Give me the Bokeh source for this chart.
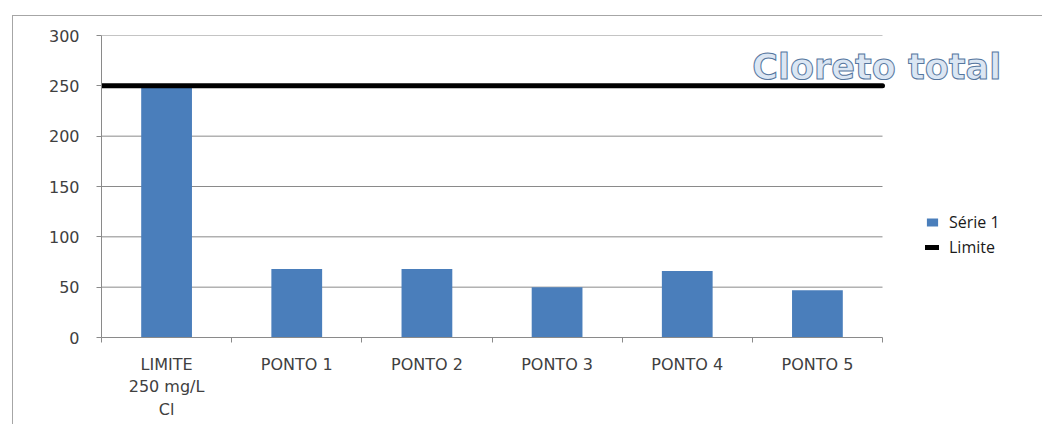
import numpy as np
from bokeh.plotting import figure
from bokeh.models import (Range1d, FixedTicker, Legend, LegendItem, Label,
                          ColumnDataSource)
from bokeh.embed import file_html
from bokeh.resources import INLINE

# ---- data ----
categories = ["LIMITE\n250 mg/L\nCl", "PONTO 1", "PONTO 2", "PONTO 3", "PONTO 4", "PONTO 5"]
serie1 = [250, 68, 68, 50, 66, 47]
limite = 250
y_ticks = [0, 50, 100, 150, 200, 250, 300]
title_text = "Cloreto total"

n = len(categories)
centers = list(np.arange(n) + 0.5)
bounds = list(range(0, n + 1))

# layout (pixels)
FIG_W, FIG_H = 1030, 409
LEFT, TOP, BOTTOM = 88, 19, 88
frame_w = FIG_W - LEFT
cat_px = 781 / n  # pixel width of one category
x_end = frame_w / cat_px

p = figure(width=FIG_W, height=FIG_H, output_backend="svg", toolbar_location=None,
           x_range=Range1d(0, x_end), y_range=Range1d(0, 300),
           min_border_left=LEFT, min_border_right=0, min_border_top=TOP,
           min_border_bottom=BOTTOM)
p.outline_line_color = None
p.background_fill_color = "white"
p.border_fill_color = "white"
p.margin = (15, 0, 0, 12)
p.styles = {"border-left": "1px solid #a6a6a6", "border-top": "1px solid #a6a6a6"}

grid_col = "#8a8a8a"
# horizontal gridlines limited to the category span
gy = y_ticks[1:]
p.segment(x0=[0] * len(gy), x1=[n] * len(gy), y0=gy, y1=gy,
          line_color=grid_col, line_width=1)

src = ColumnDataSource(dict(x=centers, top=serie1))
bars = p.vbar(x="x", top="top", width=0.39, bottom=0, source=src,
              fill_color="#4a7ebb", line_color=None)

lim = p.line(x=[0, n], y=[limite, limite], line_color="black",
             line_width=5, line_cap="round")

font = "DejaVu Sans"
lab_col = "#404040"

# y axis
p.yaxis.ticker = FixedTicker(ticks=y_ticks)
p.yaxis.axis_line_color = grid_col
p.yaxis.major_tick_line_color = grid_col
p.yaxis.major_tick_out = 5
p.yaxis.major_tick_in = 0
p.yaxis.minor_tick_line_color = None
p.yaxis.major_label_text_font = font
p.yaxis.major_label_text_font_size = "16px"
p.yaxis.major_label_text_color = lab_col
p.yaxis.major_label_standoff = 17

# x axis
p.xaxis.bounds = (0, n)
p.xaxis.ticker = FixedTicker(ticks=centers, minor_ticks=bounds)
p.xaxis.major_label_overrides = {c: lab for c, lab in zip(centers, categories)}
p.xaxis.axis_line_color = grid_col
p.xaxis.major_tick_line_color = None
p.xaxis.minor_tick_line_color = grid_col
p.xaxis.minor_tick_out = 5
p.xaxis.minor_tick_in = 0
p.xaxis.major_label_text_font = font
p.xaxis.major_label_text_font_size = "16px"
p.xaxis.major_label_text_color = lab_col
p.xaxis.major_label_standoff = 11

p.xgrid.grid_line_color = None
p.ygrid.grid_line_color = None

# title as outlined text
title = Label(x=5.0, y=269, text=title_text, text_font="DejaVu Sans",
              text_font_style="bold", text_font_size="35px",
              text_color="#dbe6f3", text_outline_color="#56779f",
              text_baseline="alphabetic", text_align="left")
p.add_layout(title)

# legend
legend = Legend(items=[LegendItem(label="Série 1", renderers=[bars]),
                       LegendItem(label="Limite", renderers=[lim])],
                location=(824, 79), border_line_color=None,
                background_fill_alpha=0, label_text_font="Open Sans",
                label_text_font_size="16px", label_text_color="#1a1a1a",
                label_text_font_style="normal",
                glyph_width=14, glyph_height=10, label_height=20,
                label_standoff=10, spacing=3, padding=0, margin=0)
p.add_layout(legend)

open("out.html", "w").write(file_html(p, INLINE))
